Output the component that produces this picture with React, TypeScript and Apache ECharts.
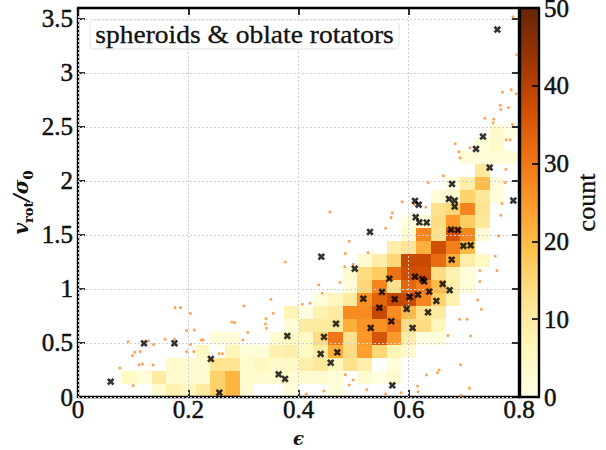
import React, { useEffect, useRef } from "react";
import * as echarts from "echarts";

const xTickStep = 0.2;
const yTickStep = 0.5;
const xMax = 0.8;
const yMax = 3.6;
const binCount = 30;
const countMax = 50;
const countStep = 10;

// start column of each row of the 2D histogram, from the bottom row up
const rowStarts = [5, 3, 6, 8, 9, 14, 14, 16, 18, 18, 19, 21, 22, 22, 24, 24, 25, 27, 26, 27, 28];
const rowCounts = [
  [3, 8, 6, 10, 16, 21, 3, 0, 0, 2, 0, 0, 2],
  [5, 2, 10, 3, 3, 3, 16, 21, 3, 3, 3, 3, 3, 3, 2, 0, 3, 1, 3],
  [4, 3, 3, 12, 12, 3, 6, 4, 5, 9, 11, 6, 13, 9, 0, 2],
  [5, 0, 7, 2, 2, 8, 9, 5, 10, 22, 14, 24, 15, 7, 4],
  [2, 2, 0, 0, 3, 5, 5, 14, 30, 13, 25, 36, 25, 9, 1, 2],
  [2, 10, 10, 11, 22, 26, 26, 30, 14, 14, 6],
  [7, 1, 8, 10, 27, 27, 38, 27, 20, 13, 10],
  [2, 6, 10, 26, 33, 38, 38, 28, 16, 8],
  [2, 15, 28, 13, 33, 29, 20, 9, 2],
  [3, 14, 17, 31, 37, 37, 14, 8, 2],
  [3, 9, 15, 38, 38, 32, 22, 9, 5],
  [9, 12, 22, 37, 29, 20],
  [3, 28, 13, 36, 28, 2],
  [1, 2, 14, 25, 17, 11],
  [13, 15, 28, 12],
  [2, 3, 16, 11, 2],
  [1, 9, 20, 2],
  [11],
  [2, 2, 2, 2],
  [2, 4],
  [4, 1],
];

const spheroidPoints: number[][] = [
  [0.376, 1.25], [0.35, 0.904], [0.354, 0.775], [0.341, 0.725], [0.34, 0.676], [0.342, 0.636],
  [0.301, 0.843], [0.279, 0.694], [0.284, 0.688], [0.308, 0.596], [0.299, 0.528], [0.176, 0.827],
  [0.186, 0.827], [0.204, 0.772], [0.197, 0.614], [0.211, 0.62], [0.091, 0.512], [0.128, 0.519],
  [0.158, 0.534], [0.175, 0.534], [0.137, 0.485], [0.204, 0.485], [0.224, 0.528], [0.227, 0.528],
  [0.103, 0.414], [0.113, 0.42], [0.099, 0.383], [0.197, 0.42], [0.21, 0.42], [0.111, 0.299],
  [0.117, 0.306], [0.136, 0.296], [0.076, 0.269], [0.1, 0.105], [0.256, 0.401], [0.262, 0.401],
  [0.457, 1.713], [0.57, 1.704], [0.568, 1.66], [0.558, 1.562], [0.767, 1.682], [0.763, 1.491],
  [0.492, 1.441], [0.485, 1.327], [0.526, 1.336], [0.757, 1.302], [0.499, 1.228], [0.484, 1.207],
  [0.729, 1.17], [0.76, 1.17], [0.729, 1.068], [0.437, 1.037], [0.475, 1.059], [0.443, 0.96],
  [0.421, 0.867], [0.407, 0.858], [0.725, 0.898], [0.732, 0.812], [0.692, 0.719], [0.706, 0.719],
  [0.671, 0.568], [0.712, 0.565], [0.694, 0.299], [0.632, 0.204], [0.655, 0.25], [0.652, 0.225],
  [0.485, 0.207], [0.499, 0.157], [0.492, 0.111], [0.616, 0.102], [0.617, 0.049], [0.71, 0.08],
  [0.446, 0.056], [0.524, 0.068], [0.558, 0.028], [0.586, 0.04], [0.695, 0.015], [0.414, 0.025],
  [0.789, 3.519], [0.796, 3.167], [0.77, 2.821], [0.786, 2.843], [0.795, 2.806], [0.766, 2.701],
  [0.767, 2.66], [0.781, 2.679], [0.738, 2.58], [0.754, 2.571], [0.753, 2.537], [0.788, 2.522],
  [0.777, 2.38], [0.784, 2.38], [0.684, 2.343], [0.711, 2.306], [0.691, 2.269], [0.693, 2.213],
  [0.776, 2.108], [0.663, 2.046], [0.635, 1.985], [0.775, 1.985], [0.588, 1.806], [0.611, 1.781],
  [0.631, 1.756], [0.769, 1.79],
];

const oblateRotators: number[][] = [
  [0.0593, 0.142], [0.1197, 0.497], [0.175, 0.497], [0.241, 0.352], [0.2564, 0.04], [0.364, 0.21],
  [0.3755, 0.167], [0.3797, 0.565], [0.4414, 1.299], [0.502, 1.188], [0.5647, 1.095], [0.6113, 1.114],
  [0.6246, 1.09], [0.628, 1.071], [0.6616, 1.046], [0.6742, 0.988], [0.6373, 0.975], [0.6168, 0.947],
  [0.6017, 0.926], [0.5515, 0.972], [0.5745, 0.905], [0.5176, 0.91], [0.5466, 0.827], [0.65, 0.889],
  [0.5962, 0.815], [0.635, 0.784], [0.5684, 0.701], [0.468, 0.679], [0.531, 0.639], [0.607, 0.639],
  [0.4463, 0.556], [0.4704, 0.414], [0.4402, 0.398], [0.4584, 0.318], [0.5702, 0.108], [0.6779, 1.271],
  [0.699, 1.398], [0.7123, 1.404], [0.6766, 1.549], [0.6893, 1.546], [0.6126, 1.664], [0.6192, 1.617],
  [0.6326, 1.614], [0.5297, 1.528], [0.7607, 3.401], [0.7347, 2.41], [0.722, 2.296], [0.7468, 2.123],
  [0.6785, 1.972], [0.6113, 1.815], [0.618, 1.78], [0.673, 1.833], [0.6833, 1.818], [0.6833, 1.762],
  [0.7897, 1.818],
];

const cmapStops = ["#ffffe5", "#fff7bc", "#fee391", "#fec44f", "#fe9929", "#ec7014", "#cc4c02", "#993404", "#662506"];
const legendLabel = "spheroids & oblate rotators";
const serif = "Liberation Serif";
const mathSerif = "DejaVu Serif";
const ink = "#111";

const hex = (c: string) => [1, 3, 5].map((k) => parseInt(c.slice(k, k + 2), 16));
function cmap(t: number): string {
  const p = Math.min(0.9999, Math.max(0, t)) * (cmapStops.length - 1);
  const k = Math.floor(p);
  const a = hex(cmapStops[k]);
  const b = hex(cmapStops[k + 1]);
  const m = a.map((v, n) => Math.round(v + (b[n] - v) * (p - k)));
  return `rgb(${m[0]},${m[1]},${m[2]})`;
}

const cells: number[][] = [];
rowCounts.forEach((row, j) =>
  row.forEach((count, k) => {
    if (count > 0) cells.push([rowStarts[j] + k, j, count]);
  })
);

const PLOT = { left: 78, top: 8, width: 441, height: 389 };
const BAR = { left: 520, top: 8, width: 19, height: 389 };
const tick = { show: true, inside: true, length: 7, lineStyle: { color: "#000", width: 1.6 } };
const spine = { show: true, onZero: false, lineStyle: { color: "#000", width: 2.4 } };
const dotted = { show: true, showMaxLine: false, lineStyle: { color: "#d0d0d0", width: 1, type: [2, 2] as number[] } };
const tickFont = {
  fontFamily: serif, fontSize: 25, lineHeight: 14, color: ink, margin: 7,
  textBorderColor: ink, textBorderWidth: 0.5,
};
const X_MARK = "path://M1.5 0L3 1.5L4.5 0L6 1.5L4.5 3L6 4.5L4.5 6L3 4.5L1.5 6L0 4.5L1.5 3L0 1.5Z";

const option: any = {
  animation: false,
  backgroundColor: "#fff",
  grid: [
    { ...PLOT, show: false, outerBoundsMode: "none" },
    { ...BAR, show: false, outerBoundsMode: "none" },
  ],
  xAxis: [
    {
      type: "value", gridIndex: 0, min: 0, max: xMax, interval: xTickStep, position: "bottom", z: 3,
      axisLine: spine, axisTick: tick, splitLine: { show: false }, axisLabel: { ...tickFont, margin: 5 },
      name: "ϵ", nameLocation: "middle", nameGap: 32,
      nameTextStyle: { fontFamily: mathSerif, fontSize: 18, fontStyle: "italic", fontWeight: "bold", color: ink },
    },
    {
      type: "value", gridIndex: 0, min: 0, max: xMax, interval: xTickStep, position: "top", z: 4,
      axisLine: spine, axisTick: tick, splitLine: dotted, axisLabel: { show: false },
    },
    {
      type: "value", gridIndex: 1, min: 0, max: 1, position: "bottom", z: 4,
      axisLine: spine, axisTick: { show: false }, splitLine: { show: false }, axisLabel: { show: false },
    },
    {
      type: "value", gridIndex: 1, min: 0, max: 1, position: "top", z: 4,
      axisLine: spine, axisTick: { show: false }, splitLine: { show: false }, axisLabel: { show: false },
    },
  ],
  yAxis: [
    {
      type: "value", gridIndex: 0, min: 0, max: yMax, interval: yTickStep, position: "left", z: 3,
      axisLine: spine, axisTick: tick, splitLine: { show: false },
      axisLabel: { ...tickFont, margin: 5, showMaxLabel: false, formatter: (v: number) => (v > 3.5 ? "" : String(v)) },
      name: "{v|v}{s|rot}{m|/σ}{s|0}", nameLocation: "middle", nameGap: 43, nameMoveOverlap: false,
      nameTextStyle: {
        rich: {
          v: { fontFamily: mathSerif, fontSize: 20, fontStyle: "italic", fontWeight: "bold", color: ink, verticalAlign: "top", lineHeight: 24 },
          m: { fontFamily: mathSerif, fontSize: 20, fontStyle: "italic", fontWeight: "bold", color: ink, verticalAlign: "top", lineHeight: 24 },
          s: { fontFamily: mathSerif, fontSize: 13, fontWeight: "bold", color: ink, verticalAlign: "bottom", lineHeight: 24 },
        },
      },
    },
    {
      type: "value", gridIndex: 0, min: 0, max: yMax, interval: yTickStep, position: "right", z: 4,
      axisLine: spine, axisTick: tick, splitLine: dotted, axisLabel: { show: false },
    },
    {
      type: "value", gridIndex: 1, min: 0, max: countMax, interval: countStep, position: "left", z: 4,
      axisLine: spine, axisTick: { show: false }, splitLine: { show: false }, axisLabel: { show: false },
    },
    {
      type: "value", gridIndex: 1, min: 0, max: countMax, interval: countStep, position: "right", z: 4,
      axisLine: spine, axisTick: tick, splitLine: { show: false },
      axisLabel: { ...tickFont, margin: 5 },
      name: "count", nameLocation: "middle", nameGap: 33, nameRotate: 90,
      nameTextStyle: { fontFamily: serif, fontSize: 26, color: ink, textBorderColor: ink, textBorderWidth: 0.3 },
    },
  ],
  series: [
    {
      type: "custom",
      coordinateSystem: "cartesian2d",
      xAxisIndex: 0,
      yAxisIndex: 0,
      z: 1,
      silent: true,
      encode: { x: 0, y: 1 },
      data: cells,
      renderItem: (_p: any, api: any) => {
        const i = api.value(0);
        const j = api.value(1);
        const a = api.coord([(i * xMax) / binCount, ((j + 1) * yMax) / binCount]);
        const b = api.coord([((i + 1) * xMax) / binCount, (j * yMax) / binCount]);
        const x = Math.round(a[0]);
        const y = Math.round(a[1]);
        return {
          type: "rect",
          shape: { x, y, width: Math.round(b[0]) - x, height: Math.round(b[1]) - y },
          style: { fill: cmap(api.value(2) / countMax) },
        };
      },
    },
    {
      type: "scatter",
      xAxisIndex: 0,
      yAxisIndex: 0,
      z: 5,
      silent: true,
      symbol: "circle",
      symbolSize: 3,
      itemStyle: { color: "#fb8d2c" },
      data: spheroidPoints,
    },
    {
      type: "scatter",
      xAxisIndex: 0,
      yAxisIndex: 0,
      z: 6,
      silent: true,
      symbol: X_MARK,
      symbolSize: 7.5,
      itemStyle: { color: "#000" },
      data: oblateRotators,
    },
    {
      type: "custom",
      coordinateSystem: "cartesian2d",
      xAxisIndex: 2,
      yAxisIndex: 2,
      z: 1,
      silent: true,
      data: [[0, countMax]],
      renderItem: (_p: any, api: any) => {
        const a = api.coord([0, countMax]);
        const b = api.coord([1, 0]);
        return {
          type: "rect",
          shape: { x: a[0], y: a[1], width: b[0] - a[0], height: b[1] - a[1] },
          style: {
            fill: new echarts.graphic.LinearGradient(
              0, 1, 0, 0,
              cmapStops.map((color, k) => ({ offset: k / (cmapStops.length - 1), color }))
            ),
          },
        };
      },
    },
  ],
  graphic: [
    {
      type: "rect",
      z: 7,
      silent: true,
      shape: { x: 90, y: 20, width: 309, height: 29, r: 5 },
      style: { fill: "rgba(255,255,255,0.85)", stroke: "#e2e2e2", lineWidth: 1 },
    },
    {
      type: "text",
      z: 8,
      silent: true,
      x: 244.5,
      y: 34.5,
      scaleX: 1.1,
      style: {
        text: legendLabel,
        fontFamily: serif,
        fontSize: 25,
        fill: ink,
        stroke: ink,
        lineWidth: 0.3,
        align: "center",
        verticalAlign: "middle",
      },
    },
  ],
};

export default function App() {
  const ref = useRef<HTMLDivElement>(null);
  useEffect(() => {
    const chart = echarts.init(ref.current!, undefined, { renderer: "svg" });
    chart.setOption(option);
    return () => chart.dispose();
  }, []);
  return <div ref={ref} style={{ position: "fixed", left: 0, top: 0, width: 606, height: 450 }} />;
}
